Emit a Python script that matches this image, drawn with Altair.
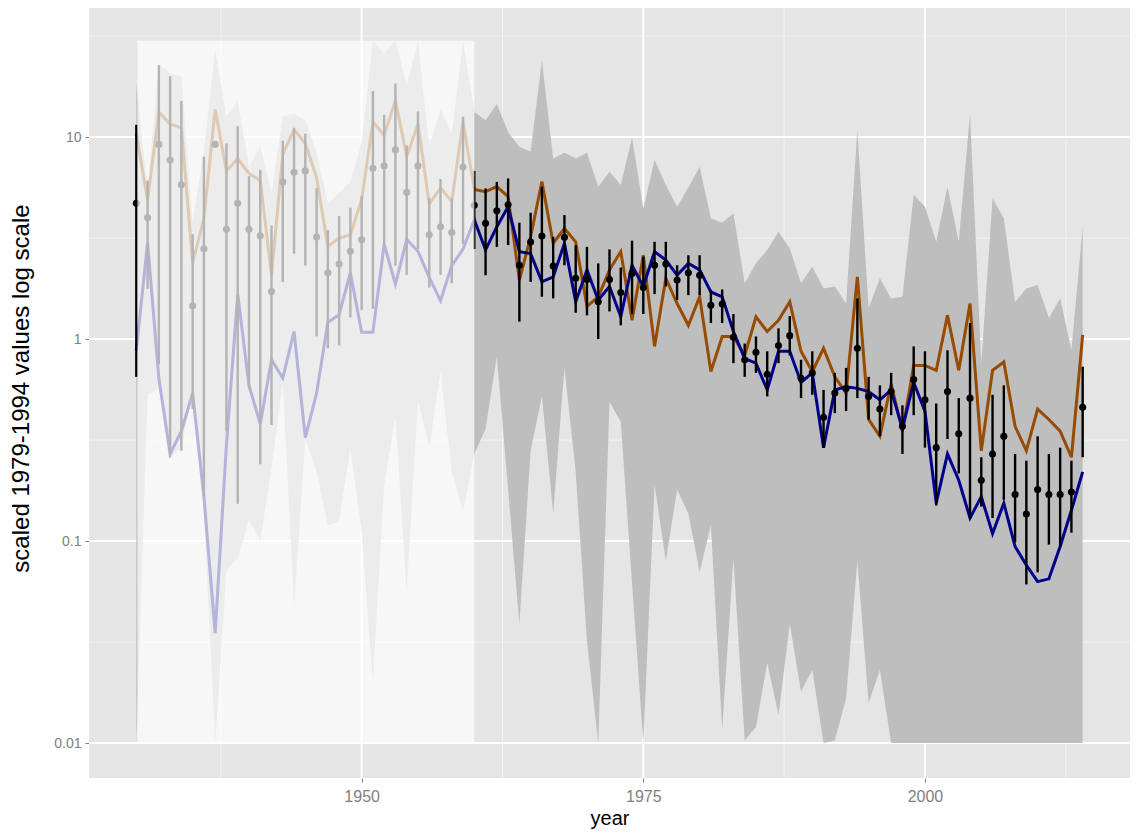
import altair as alt
import pandas as pd
import numpy as np

years = list(range(1930, 2015))

# brown series (upper line)
brown = [10.4, 4.9, 13.3, 11.6, 11.1, 2.38, 3.96, 13.7, 6.8, 7.8,
         6.6, 6.1, 2.08, 8.2, 10.9, 9.3, 6.3, 2.87, 3.16, 3.28,
         4.9, 11.9, 10.2, 15.2, 8.0, 11.6, 4.66, 5.6, 4.8, 11.9,
         5.5, 5.37, 5.69, 5.07, 1.96, 3.21, 6.03, 2.98, 3.53, 3.03,
         1.45, 1.62, 2.2, 2.71, 1.24, 2.6, 0.92, 2.0, 1.5, 1.17,
         1.62, 0.69, 1.03, 1.03, 0.83, 1.29, 1.09, 1.24, 1.53, 0.87,
         0.69, 0.9, 0.65, 0.54, 2.03, 0.40, 0.33, 0.6, 0.35, 0.74,
         0.74, 0.70, 1.31, 0.70, 1.5, 0.28, 0.70, 0.77, 0.37, 0.28,
         0.45, 0.40, 0.35, 0.26, 1.05]

# dark blue series (lower line)
blue = [0.88, 3.0, 0.64, 0.27, 0.35, 0.54, 0.166, 0.035, 0.30, 1.67,
        0.59, 0.38, 0.79, 0.64, 1.09, 0.325, 0.54, 1.21, 1.32, 2.13,
        1.08, 1.08, 2.95, 1.87, 3.11, 2.72, 2.02, 1.55, 2.31, 2.79,
        3.9, 2.76, 3.6, 4.52, 2.71, 2.65, 1.92, 2.03, 2.98, 1.53,
        2.2, 1.56, 1.82, 1.29, 2.32, 1.82, 2.71, 2.46, 2.07, 2.37,
        2.2, 1.71, 1.62, 1.09, 0.80, 0.76, 0.56, 0.87, 0.87, 0.61,
        0.68, 0.29, 0.56, 0.58, 0.57, 0.55, 0.5, 0.56, 0.36, 0.61,
        0.44, 0.154, 0.27, 0.2, 0.13, 0.166, 0.109, 0.154, 0.094, 0.076,
        0.063, 0.065, 0.094, 0.142, 0.22]

# index points
points = [4.7, 4.0, 9.2, 7.7, 5.8, 1.46, 2.8, 9.2, 3.5, 4.7,
          3.5, 3.25, 1.72, 6.0, 6.7, 6.8, 3.2, 2.13, 2.35, 2.72,
          3.1, 7.0, 7.2, 8.65, 5.33, 7.2, 3.28, 3.6, 3.37, 7.1,
          4.6, 3.74, 4.32, 4.62, 2.32, 3.02, 3.24, 2.3, 3.19, 2.0,
          1.97, 1.53, 1.97, 1.70, 2.11, 1.8, 2.32, 2.35, 1.96, 2.13,
          2.07, 1.47, 1.49, 1.02, 0.79, 0.86, 0.67, 0.93, 1.04, 0.64,
          0.68, 0.41, 0.54, 0.57, 0.9, 0.52, 0.45, 0.55, 0.37, 0.63,
          0.5, 0.29, 0.55, 0.34, 0.51, 0.2, 0.27, 0.33, 0.17, 0.136,
          0.18, 0.17, 0.17, 0.175, 0.46]

# error bar limits
err_lo = [0.65, 1.77, 0.75, 0.26, 0.28, 0.45, 0.166, None, 0.35, 0.153,
          0.57, 0.24, 0.376, 1.92, 2.65, 2.31, 1.03, 0.90, 0.93, 1.28,
          1.39, 1.41, 2.87, 2.31, 2.08, 2.79, 1.8, 2.08, 1.89, 2.95,
          2.79, 2.07, 2.86, 2.92, 1.22, 1.92, 1.62, 1.59, 2.32, 1.35,
          1.31, 1.0, 1.37, 1.17, 1.33, 1.33, 1.67, 1.82, 1.56, 1.65,
          1.65, 1.2, 1.2, 0.76, 0.65, 0.68, 0.52, 0.76, 0.83, 0.51,
          0.53, 0.29, 0.43, 0.44, 0.51, 0.40, 0.33, 0.42, 0.27, 0.42,
          0.29, 0.15, 0.32, 0.216, 0.13, 0.148, 0.13, 0.16, 0.099, 0.061,
          0.07, 0.096, 0.094, 0.11, 0.26]
err_hi = [11.5, 6.1, 22.7, 20.0, 15.1, 3.3, 8.0, None, 9.3, 11.3,
          6.4, 6.9, 3.65, 9.6, 11.1, 10.4, 5.6, 3.47, 4.07, 4.47,
          5.1, 16.9, 12.9, 18.4, 9.1, 13.4, 5.0, 6.2, 4.97, 12.6,
          6.8, 5.57, 6.0, 6.24, 3.77, 4.22, 5.68, 3.21, 4.11, 2.92,
          2.86, 2.37, 2.78, 2.26, 3.07, 2.56, 3.03, 3.03, 2.32, 2.6,
          2.6, 1.75, 1.76, 1.33, 0.95, 1.03, 0.87, 1.13, 1.3, 0.79,
          0.87, 0.56, 0.68, 0.72, 1.59, 0.65, 0.59, 0.68, 0.47, 0.92,
          0.87, 0.48, 0.88, 0.51, 1.2, 0.26, 0.53, 0.59, 0.27, 0.25,
          0.33, 0.27, 0.29, 0.25, 0.73]

# uncertainty ribbon
ribbon_lo = [0.01, 0.53, 0.57, 0.26, 0.29, 0.55, 0.14, 0.01, 0.072, 0.082,
             0.127, 0.10, 0.23, 0.61, 0.047, 0.32, 0.22, 0.12, 0.125, 0.29,
             0.11, 0.02, 0.19, 0.41, 0.056, 0.5, 0.29, 0.69, 0.22, 0.14,
             0.27, 0.36, 0.82, 0.18, 0.039, 0.28, 0.52, 0.137, 0.72, 0.22,
             0.032, 0.01, 0.49, 0.39, 0.062, 0.01, 0.19, 0.08, 0.18, 0.137,
             0.07, 0.12, 0.0116, 0.082, 0.0103, 0.012, 0.025, 0.0138, 0.039, 0.018,
             0.023, 0.01, 0.0103, 0.0166, 0.08, 0.0158, 0.023, 0.01, 0.01, 0.01,
             0.01, 0.01, 0.01, 0.01, 0.01, 0.01, 0.01, 0.01, 0.01, 0.01,
             0.01, 0.01, 0.01, 0.01, 0.01]
ribbon_hi = [18.4, 5.5, 23.0, 20.7, 19.9, 3.8, 8.6, 27.0, 12.6, 15.0,
             7.1, 9.0, 5.3, 12.6, 13.1, 12.1, 8.4, 4.7, 5.3, 6.0,
             9.4, 30.0, 26.0, 30.0, 17.9, 30.0, 8.9, 13.7, 10.4, 30.0,
             13.3, 12.1, 14.6, 10.6, 8.95, 8.46, 24.0, 7.84, 8.36, 7.84,
             8.36, 5.68, 6.73, 5.79, 9.96, 4.43, 7.69, 5.79, 4.52, 5.63,
             7.13, 3.96, 3.77, 4.19, 1.89, 2.37, 2.76, 3.4, 2.81, 1.89,
             2.28, 1.78, 1.82, 1.5, 10.8, 1.42, 2.0, 1.59, 1.62, 5.16,
             4.52, 3.03, 5.68, 3.03, 13.1, 0.76, 4.97, 3.96, 1.53, 1.78,
             1.85, 1.27, 1.59, 0.88, 3.6]

# faded early period and value limits
shade_years = [1930.1, 1960.0]
shade_values = [0.01, 30.0]

# axis breaks
y_major = [0.01, 0.1, 1, 10]
y_minor = [0.0316, 0.316, 3.16, 31.6]
x_major = [1950, 1975, 2000]
x_minor = [1937.5, 1962.5, 1987.5, 2012.5]

df = pd.DataFrame({"year": years, "brown": brown, "blue": blue, "p": points,
                   "lo": err_lo, "hi": err_hi, "rlo": ribbon_lo, "rhi": ribbon_hi})
df_err = df.dropna(subset=["lo", "hi"])
shade = pd.DataFrame({"x1": [shade_years[0]], "x2": [shade_years[1]],
                      "y1": [shade_values[0]], "y2": [shade_values[1]]})

FONT = "Liberation Sans"
xs = alt.Scale(domain=[1925.8, 2018.2], nice=False, zero=False)
ys = alt.Scale(type="log", domain=[10 ** -2.173, 10 ** 1.639], nice=False)

xaxis = alt.Axis(values=x_major, format="d", grid=False, domain=False,
                 tickColor="#7F7F7F", tickSize=4, labelColor="#7F7F7F",
                 labelFontSize=16, labelPadding=6, labelFont=FONT,
                 title="year", titleFont=FONT, titleFontSize=20,
                 titleFontWeight="normal", titleColor="#000000",
                 titleY=46, titleBaseline="alphabetic")
yaxis = alt.Axis(values=y_major, format="~g", grid=False, domain=False,
                 tickColor="#7F7F7F", tickSize=4, labelColor="#7F7F7F",
                 labelFontSize=14, labelPadding=4, labelFont=FONT,
                 title="scaled 1979-1994 values log scale", titleFont=FONT,
                 titleFontSize=24, titleFontWeight="normal", titleColor="#000000",
                 titleX=-61, titleY=380, titleAngle=270,
                 titleBaseline="alphabetic", titleAlign="center")

def X(field="year"):
    return alt.X(f"{field}:Q", scale=xs, axis=xaxis)

def Y(field):
    return alt.Y(f"{field}:Q", scale=ys, axis=yaxis)

ymin_df = pd.DataFrame({"v": y_minor})
ymaj_df = pd.DataFrame({"v": y_major})
xmin_df = pd.DataFrame({"v": x_minor})
xmaj_df = pd.DataFrame({"v": x_major})

g1 = alt.Chart(ymin_df).mark_rule(color="#F2F2F2", strokeWidth=1).encode(y=Y("v"))
g2 = alt.Chart(xmin_df).mark_rule(color="#F2F2F2", strokeWidth=1).encode(x=X("v"))
g3 = alt.Chart(ymaj_df).mark_rule(color="#FFFFFF", strokeWidth=2).encode(y=Y("v"))
g4 = alt.Chart(xmaj_df).mark_rule(color="#FFFFFF", strokeWidth=2).encode(x=X("v"))

base = alt.Chart(df)
ribbon = base.mark_area(color="#BEBEBE", opacity=1).encode(
    x=X(), y=Y("rlo"), y2="rhi:Q")
line_b = base.mark_line(color="#964B00", strokeWidth=3).encode(x=X(), y=Y("brown"))
line_n = base.mark_line(color="#00008B", strokeWidth=3).encode(x=X(), y=Y("blue"))
errs = alt.Chart(df_err).mark_rule(color="#000000", strokeWidth=2.4).encode(
    x=X(), y=Y("lo"), y2="hi:Q")
pts = base.mark_circle(color="#000000", size=50, opacity=1).encode(x=X(), y=Y("p"))
rect = alt.Chart(shade).mark_rect(color="#FFFFFF", opacity=0.7).encode(
    x=X("x1"), x2="x2:Q", y=Y("y1"), y2="y2:Q")

chart = alt.layer(g1, g2, g3, g4, ribbon, line_b, line_n, errs, pts, rect).properties(
    width=1041, height=770,
    autosize=alt.AutoSizeParams(type="none"),
    padding={"left": 81, "top": 0, "right": 1, "bottom": 52},
).configure_view(fill="#E5E5E5", strokeWidth=0)

chart.save("out.html", embed_options={"renderer": "svg", "actions": False})
